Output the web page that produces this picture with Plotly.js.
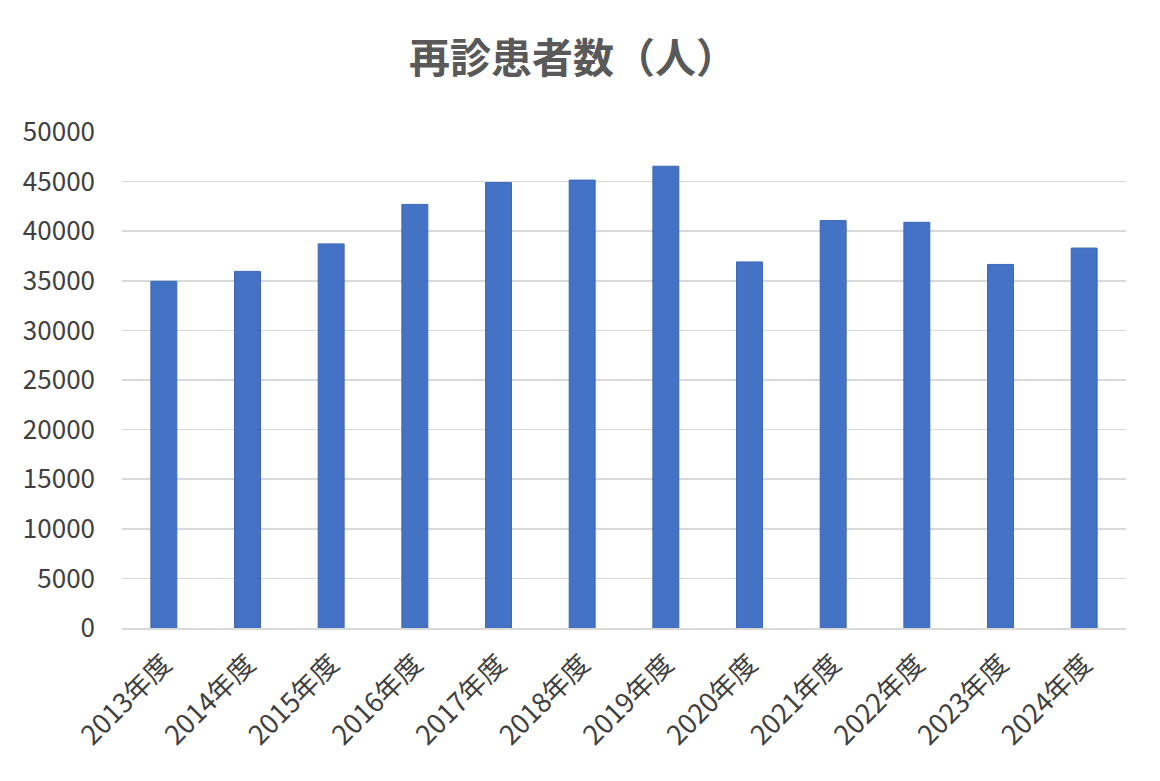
<!DOCTYPE html>
<html>
<head>
<meta charset="utf-8">
<script src="https://cdn.plot.ly/plotly-3.0.1.min.js"></script>
<style>html,body{margin:0;padding:0;background:#fff;}#chart{width:1160px;height:781px;}</style>
</head>
<body>
<div id="chart"></div>
<script>
const categories = ["2013年度","2014年度","2015年度","2016年度","2017年度","2018年度","2019年度","2020年度","2021年度","2022年度","2023年度","2024年度"];
const patients = [34950, 35950, 38720, 42700, 44900, 45150, 46550, 36900, 41070, 40900, 36650, 38300];
const yTicks = [0,5000,10000,15000,20000,25000,30000,35000,40000,45000,50000];
const chartTitle = "再診患者数（人）";

const font = "Noto Sans CJK JP, Noto Sans, sans-serif";
Plotly.newPlot("chart", [{
  type: "bar",
  x: categories,
  y: patients,
  marker: {color: "#4472C4", line: {color: "#3d68b8", width: 1}},
  width: 0.31,
  hoverinfo: "x+y"
}], {
  width: 1160, height: 781,
  paper_bgcolor: "#ffffff", plot_bgcolor: "#ffffff",
  margin: {l: 122, r: 34, t: 132, b: 153},
  title: {text: chartTitle, font: {family: font, size: 41, color: "#595959", weight: "bold"}, x: 0.494, xanchor: "center", y: 0.925, yanchor: "middle"},
  showlegend: false,
  xaxis: {
    type: "category",
    tickangle: -45,
    tickfont: {family: font, size: 27, color: "#404040"},
    showgrid: false,
    showline: true, linecolor: "#d9d9d9", linewidth: 1.5,
    ticks: "", ticklen: 0,
    ticklabelstandoff: 8
  },
  yaxis: {
    range: [0, 50000],
    tickvals: yTicks,
    ticktext: yTicks.map(String),
    tickfont: {family: font, size: 26, color: "#404040"},
    showgrid: true, gridcolor: "#d9d9d9", gridwidth: 1.5,
    zeroline: false, showline: false,
    ticks: "", ticklabelstandoff: 26
  }
}, {displayModeBar: false, staticPlot: true});
</script>
</body>
</html>
